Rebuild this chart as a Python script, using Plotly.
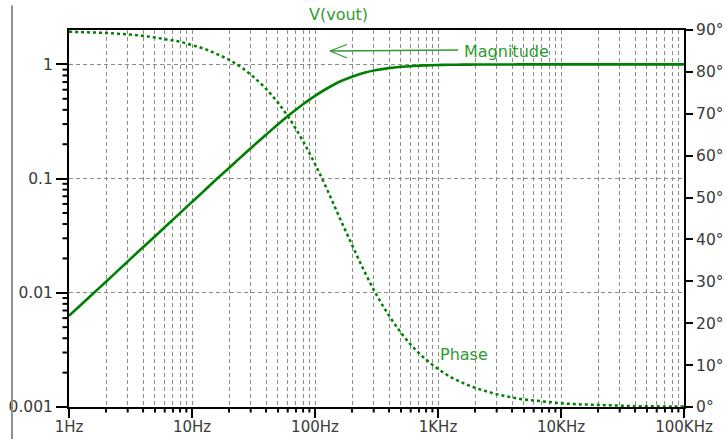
import math
import plotly.graph_objects as go

# ---- data (AC sweep of V(vout)) ----
freq_hz = [1, 1.26, 1.58, 2.0, 2.51, 3.16, 3.98, 5.01, 6.31, 7.94,
           10, 12.6, 15.8, 20.0, 25.1, 31.6, 39.8, 50.1, 63.1, 79.4,
           100, 126, 158, 200, 251, 316, 398, 501, 631, 794,
           1000, 1260, 1580, 2000, 2510, 3160, 3980, 5010, 6310, 7940,
           10000, 12600, 15800, 20000, 25100, 31600, 39800, 50100, 63100, 79400,
           100000]
magnitude = [0.0063, 0.0079, 0.0099, 0.0125, 0.0157, 0.0198, 0.0249, 0.0313, 0.0394, 0.0496,
             0.0624, 0.0785, 0.0986, 0.124, 0.155, 0.194, 0.241, 0.299, 0.367, 0.445,
             0.530, 0.618, 0.704, 0.780, 0.844, 0.892, 0.928, 0.953, 0.969, 0.980,
             0.987, 0.992, 0.995, 0.997, 0.998, 0.999, 0.999, 1.0, 1.0, 1.0,
             1.0, 1.0, 1.0, 1.0, 1.0, 1.0, 1.0, 1.0, 1.0, 1.0,
             1.0]
phase_deg = [89.6, 89.5, 89.4, 89.3, 89.1, 88.9, 88.6, 88.2, 87.7, 87.2,
             86.4, 85.5, 84.3, 82.9, 81.1, 78.8, 76.0, 72.6, 68.5, 63.6,
             58.0, 51.8, 45.3, 38.7, 32.5, 26.8, 21.9, 17.7, 14.2, 11.4,
             9.1, 7.2, 5.8, 4.6, 3.7, 2.9, 2.3, 1.8, 1.5, 1.2,
             0.9, 0.7, 0.6, 0.5, 0.4, 0.3, 0.2, 0.2, 0.15, 0.1,
             0.1]

x_tickvals = [1, 10, 100, 1000, 10000, 100000]
x_ticktext = ["1Hz", "10Hz", "100Hz", "1KHz", "10KHz", "100KHz"]
y_tickvals = [0.001, 0.01, 0.1, 1]
y_ticktext = ["0.001", "0.01", "0.1", "1"]
phase_tickvals = [0, 10, 20, 30, 40, 50, 60, 70, 80, 90]
phase_ticktext = [f"{v}°" for v in phase_tickvals]

# minor (2..9) positions within each decade of the log axes
x_minor = [m * d for d in x_tickvals[:-1] for m in range(2, 10)]
y_minor = [m * d for d in y_tickvals[:-1] for m in range(2, 10)]

CURVE = "#008000"
LABEL = "#2f9a2f"
TICKTXT = "#3a3a3a"
GRID = "#8c8c8c"
FONT = "DejaVu Sans"

X_RANGE = [0, 5]
Y_RANGE = [-3, math.log10(2)]
PLOT_W, PLOT_H = 726 - 69 - 42, 439 - 30 - 32

fig = go.Figure()
fig.add_trace(go.Scatter(x=freq_hz, y=magnitude, mode="lines", name="Magnitude",
                         line=dict(color=CURVE, width=2.6, shape="spline"),
                         showlegend=False, hoverinfo="skip"))
fig.add_trace(go.Scatter(x=freq_hz, y=phase_deg, mode="lines", name="Phase", yaxis="y2",
                         line=dict(color=CURVE, width=2.5, dash="3px,3px", shape="spline"),
                         showlegend=False, hoverinfo="skip"))

# minor tick marks drawn outside the axes (paper coords from the log scale)
minor_shapes = []
for v in x_minor:
    px = (math.log10(v) - X_RANGE[0]) / (X_RANGE[1] - X_RANGE[0])
    minor_shapes.append(dict(type="line", xref="paper", yref="paper", x0=px, x1=px,
                             y0=0, y1=-5.5 / PLOT_H, line=dict(color="black", width=2)))
for v in y_minor:
    py = (math.log10(v) - Y_RANGE[0]) / (Y_RANGE[1] - Y_RANGE[0])
    minor_shapes.append(dict(type="line", xref="paper", yref="paper", x0=0, x1=-6.5 / PLOT_W,
                             y0=py, y1=py, line=dict(color="black", width=2)))

fig.update_layout(
    width=726, height=439,
    margin=dict(l=69, r=42, t=30, b=32),
    paper_bgcolor="white", plot_bgcolor="white",
    font=dict(family=FONT, size=15.5, color=TICKTXT),
    xaxis=dict(type="log", range=X_RANGE, automargin=False,
               tickvals=x_tickvals, ticktext=x_ticktext,
               ticks="outside", ticklen=9, tickwidth=2, tickcolor="black",
               ticklabelstandoff=-4,
               tickfont=dict(family=FONT, size=15, color=TICKTXT),
               showline=True, linecolor="black", linewidth=2, mirror=True,
               showgrid=True, gridcolor=GRID, gridwidth=1, griddash="4px,3px",
               zeroline=False,
               minor=dict(tickmode="array", tickvals=x_minor, ticks="",
                          showgrid=True, gridcolor=GRID, gridwidth=1, griddash="4px,3px")),
    yaxis=dict(type="log", range=Y_RANGE, automargin=False,
               tickvals=y_tickvals, ticktext=y_ticktext,
               ticks="outside", ticklen=11, tickwidth=2, tickcolor="black",
               showline=True, linecolor="black", linewidth=2,
               showgrid=True, gridcolor=GRID, gridwidth=1, griddash="4px,3px",
               zeroline=False),
    yaxis2=dict(overlaying="y", side="right", range=[0, 90], automargin=False,
                tickvals=phase_tickvals, ticktext=phase_ticktext,
                ticks="outside", ticklen=7, tickwidth=2, tickcolor="black",
                showline=True, linecolor="black", linewidth=2,
                showgrid=False, zeroline=False),
    annotations=[
        dict(text="V(vout)", xref="paper", yref="paper", x=0.4374, y=1.04,
             xanchor="center", yanchor="middle",
             showarrow=False, font=dict(family=FONT, size=16, color=LABEL)),
        dict(text="Magnitude", xref="paper", yref="paper", x=0.7114, y=0.9425,
             xanchor="center", yanchor="middle",
             showarrow=False, font=dict(family=FONT, size=16, color=LABEL)),
        dict(text="Phase", xref="paper", yref="paper", x=0.6415, y=0.138,
             xanchor="center", yanchor="middle",
             showarrow=False, font=dict(family=FONT, size=16, color=LABEL)),
    ],
    shapes=[
        # page border line on far left
        dict(type="line", xref="paper", yref="paper", x0=-0.0927, x1=-0.0927, y0=1.065, y1=-0.09,
             line=dict(color="#909090", width=2)),
        # arrow pointing to magnitude curve
        dict(type="line", xref="paper", yref="paper", x0=0.4244, y0=0.9443, x1=0.6325, y1=0.947,
             line=dict(color=LABEL, width=1.3)),
        dict(type="line", xref="paper", yref="paper", x0=0.4244, y0=0.9443, x1=0.452, y1=0.9615,
             line=dict(color=LABEL, width=1.3)),
        dict(type="line", xref="paper", yref="paper", x0=0.4244, y0=0.9443, x1=0.452, y1=0.9257,
             line=dict(color=LABEL, width=1.3)),
    ] + minor_shapes,
)

fig.write_html("out.html")
